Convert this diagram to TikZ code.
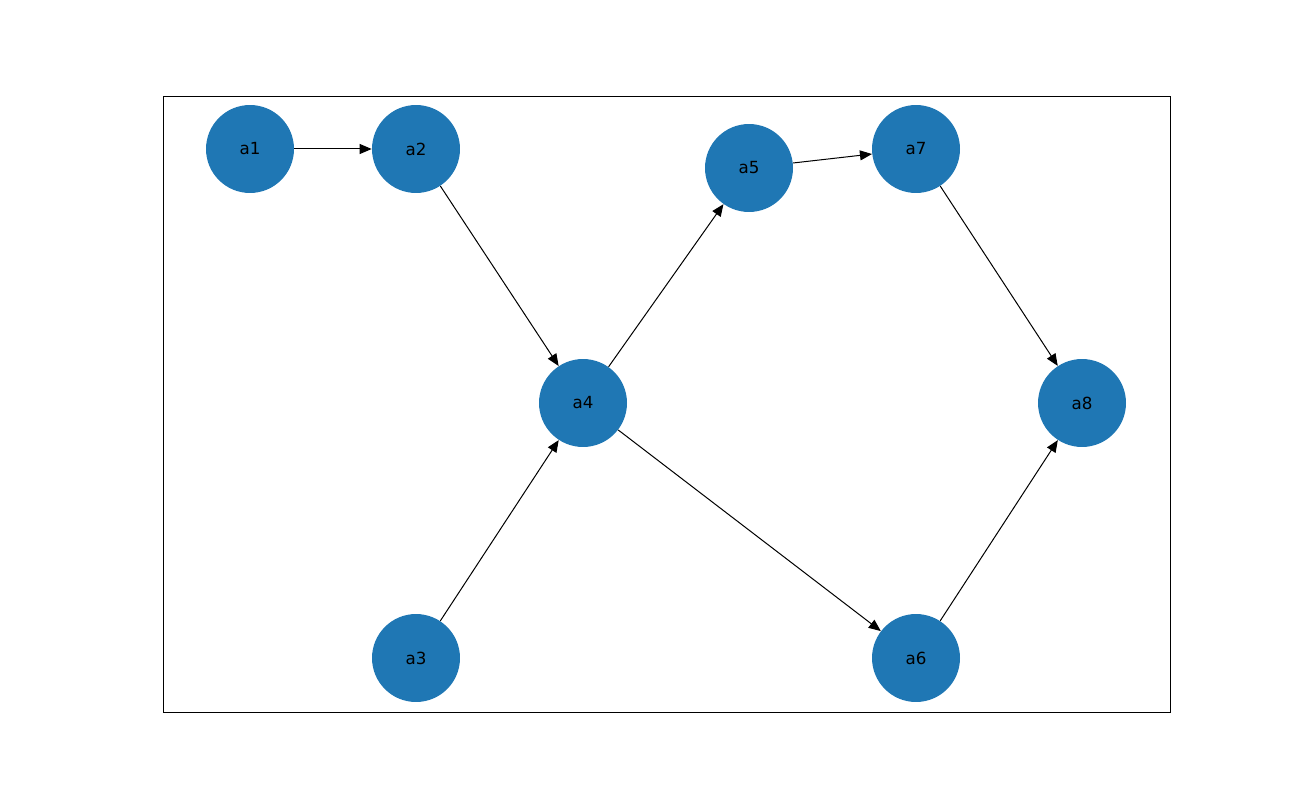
\documentclass[tikz,border=0pt]{standalone}
\usepackage{fontspec}
\setmainfont{DejaVu Sans}
\usetikzlibrary{arrows.meta}
\begin{document}
\begin{tikzpicture}[x=0.02cm,y=-0.02cm,
  nd/.style={circle,fill={rgb,255:red,31;green,119;blue,180},minimum size=1.76cm,inner sep=0pt,font=\fontsize{9.5}{11}\selectfont},
  ed/.style={-{Triangle[length=2.4mm,width=2mm]},line width=0.57pt,shorten >=0pt}]
\useasboundingbox (0,0) rectangle (1300,800);
\draw[line width=0.5pt] (163,96) rectangle (1170,712);
\node[nd] (a1) at (250,149) {a1};
\node[nd] (a2) at (416,149) {a2};
\node[nd] (a3) at (416,658) {a3};
\node[nd] (a4) at (583,403) {a4};
\node[nd] (a5) at (749,168) {a5};
\node[nd] (a6) at (916,658) {a6};
\node[nd] (a7) at (916,149) {a7};
\node[nd] (a8) at (1082,403) {a8};
\draw[ed] (a1) -- (a2);
\draw[ed] (a2) -- (a4);
\draw[ed] (a3) -- (a4);
\draw[ed] (a4) -- (a5);
\draw[ed] (a4) -- (a6);
\draw[ed] (a5) -- (a7);
\draw[ed] (a7) -- (a8);
\draw[ed] (a6) -- (a8);
\end{tikzpicture}
\end{document}
